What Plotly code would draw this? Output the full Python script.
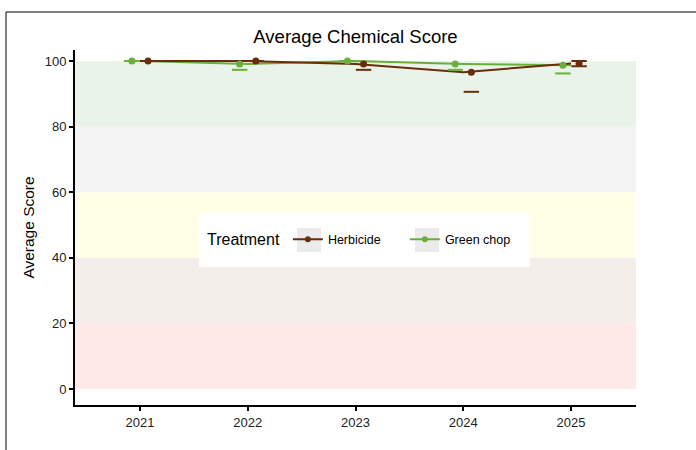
import plotly.graph_objects as go

years = [2021, 2022, 2023, 2024, 2025]
treatments = ["Herbicide", "Green chop"]
herbicide_mean = [100.0, 100.0, 99.1, 96.6, 99.2]
herbicide_se = [0.0, 0.0, 1.8, 6.0, 0.8]
greenchop_mean = [100.0, 99.1, 100.0, 99.1, 98.7]
greenchop_se = [0.0, 1.8, 0.0, 1.8, 2.5]

band_low = [0, 20, 40, 60, 80]
band_high = [20, 40, 60, 80, 100]
band_colors = ["#FFE8E8", "#F4EEEA", "#FFFFE8", "#F3F3F3", "#EAF3E9"]

colors = {"Herbicide": "#6B2C0E", "Green chop": "#6AAE3C"}
dodge = {"Herbicide": 0.075, "Green chop": -0.075}
series = {
    "Herbicide": (herbicide_mean, herbicide_se),
    "Green chop": (greenchop_mean, greenchop_se),
}

FONT = "Liberation Sans, Arial, Helvetica, sans-serif"
fig = go.Figure()

# lines (undodged), green drawn first
for name in ["Green chop", "Herbicide"]:
    m, s = series[name]
    fig.add_trace(go.Scatter(x=years, y=m, mode="lines",
                             line=dict(color=colors[name], width=2),
                             showlegend=False, hoverinfo="skip"))

# error bar caps (upper cap dropped when above the 100 limit) and points (dodged)
for name in ["Herbicide", "Green chop"]:
    m, s = series[name]
    xd = [y + dodge[name] for y in years]
    lower = [a - b for a, b in zip(m, s)]
    cx = list(xd)
    cy = list(lower)
    for x, a, b in zip(xd, m, s):
        if a + b <= 100.001:
            cx.append(x)
            cy.append(a + b)
    fig.add_trace(go.Scatter(x=cx, y=cy, mode="markers",
                             marker=dict(symbol="line-ew", size=11,
                                         line=dict(color=colors[name], width=2)),
                             showlegend=False, hoverinfo="skip"))
for name in ["Herbicide", "Green chop"]:
    m, s = series[name]
    xd = [y + dodge[name] for y in years]
    fig.add_trace(go.Scatter(x=xd, y=m, mode="markers",
                             marker=dict(color=colors[name], size=7),
                             showlegend=False))

# legend entries
for name in treatments:
    fig.add_trace(go.Scatter(x=[None], y=[None], mode="lines+markers", name=name,
                             line=dict(color=colors[name], width=2),
                             marker=dict(color=colors[name], size=6)))

PW, PH, L, T = 561.0, 355.0, 75.0, 50.0
def px(x):
    return (x - L) / PW
def py(y):
    return (T + PH - y) / PH

shapes = []
for lo, hi, c in zip(band_low, band_high, band_colors):
    shapes.append(dict(type="rect", xref="paper", x0=0, x1=1, yref="y", y0=lo, y1=hi,
                       fillcolor=c, line=dict(width=0), layer="below"))
# outer frame
shapes.append(dict(type="rect", xref="paper", yref="paper", x0=px(6), x1=px(760),
                   y0=py(520), y1=py(12), line=dict(color="black", width=1),
                   fillcolor="rgba(0,0,0,0)", layer="below"))
# legend box and key backgrounds
shapes.append(dict(type="rect", xref="paper", yref="paper", x0=px(199), x1=px(530),
                   y0=py(267), y1=py(213), line=dict(width=0), fillcolor="white", layer="above"))
for kx in (297, 415):
    shapes.append(dict(type="rect", xref="paper", yref="paper", x0=px(kx), x1=px(kx + 24),
                       y0=py(252), y1=py(228), line=dict(width=0), fillcolor="#EBEBEB",
                       layer="above"))

fig.update_layout(
    width=696, height=450,
    margin=dict(l=75, r=60, t=50, b=45),
    paper_bgcolor="white", plot_bgcolor="white",
    font=dict(family=FONT, color="#222222"),
    title=dict(text="Average Chemical Score", x=0.5, xref="paper", xanchor="center",
               y=1 - 37 / 450, yanchor="middle", font=dict(size=18.5, color="black")),
    shapes=shapes,
    legend=dict(orientation="h", x=px(205), xanchor="left", y=py(240), yanchor="middle",
                bgcolor="rgba(0,0,0,0)", borderwidth=0,
                entrywidth=72, entrywidthmode="pixels",
                title=dict(text="Treatment", font=dict(size=16, color="black")),
                font=dict(size=12.5, color="black"), traceorder="normal"),
    xaxis=dict(range=[2020.397, 2025.603], tickvals=years, ticktext=[str(y) for y in years],
               showgrid=False, zeroline=False, showline=True, linecolor="black", linewidth=2,
               ticks="outside", ticklen=4, tickwidth=1.5, tickcolor="black",
               tickfont=dict(size=13, color="#222222")),
    yaxis=dict(range=[-4.88, 103.35], tickvals=[0, 20, 40, 60, 80, 100],
               showgrid=False, zeroline=False, showline=True, linecolor="black", linewidth=2,
               ticks="outside", ticklen=4, tickwidth=1.5, tickcolor="black",
               tickfont=dict(size=13, color="#222222"),
               title=dict(text="Average Score", font=dict(size=15.5, color="black"), standoff=6)),
)

fig.write_html("out.html", post_script="document.body.style.margin='0';",
               config={"displayModeBar": False})
